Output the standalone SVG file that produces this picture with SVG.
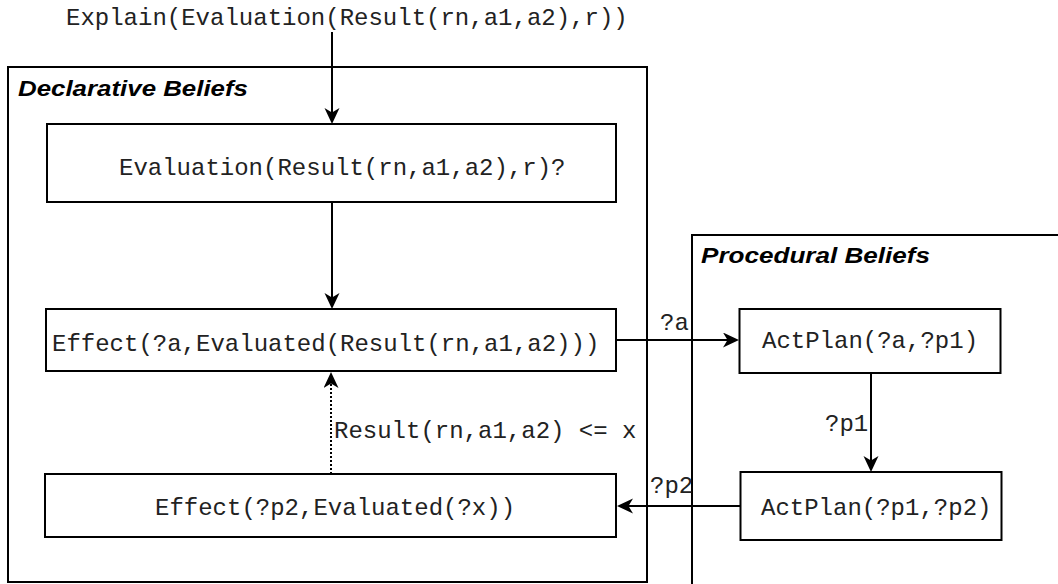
<svg xmlns="http://www.w3.org/2000/svg" width="1058" height="584" viewBox="0 0 1058 584">
  <style>
    .frame { fill: none; stroke: #000; stroke-width: 2; }
    .node { fill: #fff; stroke: #000; stroke-width: 2; }
    .mono { font-family: "Liberation Mono", "Courier New", monospace; font-size: 24px; fill: #222; }
    .title { font-family: "Liberation Sans", Arial, sans-serif; font-size: 22px; font-weight: bold; font-style: italic; fill: #000; }
    .edge { fill: none; stroke: #000; stroke-width: 2; }
    .dotted { stroke-dasharray: 2 2; }
  </style>
  <defs>
    <marker id="arrow" markerUnits="userSpaceOnUse" markerWidth="16" markerHeight="16" viewBox="0 0 16 16" refX="12" refY="7.5" orient="auto">
      <path d="M0,0 L16,7.5 L0,15 L4.5,7.5 Z" fill="#000"/>
    </marker>
  </defs>

  <rect width="1058" height="584" fill="#fff"/>

  <!-- query entering the belief base -->
  <text id="query" class="mono" x="66" y="25">Explain(Evaluation(Result(rn,a1,a2),r))</text>

  <!-- containers -->
  <g id="declarative-beliefs">
    <rect class="frame" x="8" y="67" width="639" height="515"/>
    <text class="title" x="18" y="96" textLength="230" lengthAdjust="spacingAndGlyphs">Declarative Beliefs</text>
  </g>
  <g id="procedural-beliefs">
    <rect class="frame" x="692" y="235" width="420" height="400"/>
    <text class="title" x="701" y="263" textLength="229" lengthAdjust="spacingAndGlyphs">Procedural Beliefs</text>
  </g>

  <!-- declarative nodes -->
  <g id="evaluation">
    <rect class="node" x="47" y="124" width="569" height="78"/>
    <text class="mono" x="119" y="175">Evaluation(Result(rn,a1,a2),r)?</text>
  </g>
  <g id="effect-a">
    <rect class="node" x="46" y="309" width="570" height="62"/>
    <text class="mono" x="52" y="351">Effect(?a,Evaluated(Result(rn,a1,a2)))</text>
  </g>
  <g id="effect-p2">
    <rect class="node" x="45" y="474" width="571" height="63"/>
    <text class="mono" x="155" y="515">Effect(?p2,Evaluated(?x))</text>
  </g>

  <!-- procedural nodes -->
  <g id="actplan-a-p1">
    <rect class="node" x="739.5" y="309" width="261" height="64"/>
    <text class="mono" x="762" y="348">ActPlan(?a,?p1)</text>
  </g>
  <g id="actplan-p1-p2">
    <rect class="node" x="740.5" y="472" width="261" height="68"/>
    <text class="mono" x="761" y="515">ActPlan(?p1,?p2)</text>
  </g>

  <!-- connectors -->
  <g id="connectors">
    <path class="edge" d="M332,32 V120" marker-end="url(#arrow)"/>
    <path class="edge" d="M332,202 V305" marker-end="url(#arrow)"/>
    <path class="edge dotted" d="M331,474 V376" marker-end="url(#arrow)"/>
    <path class="edge" d="M616,340 H735" marker-end="url(#arrow)"/>
    <path class="edge" d="M871,373 V468" marker-end="url(#arrow)"/>
    <path class="edge" d="M740.5,506 H621" marker-end="url(#arrow)"/>

    <text class="mono" x="660" y="330">?a</text>
    <text class="mono" x="825" y="431">?p1</text>
    <text class="mono" x="650" y="493">?p2</text>
    <text class="mono" x="334" y="438">Result(rn,a1,a2) &lt;= x</text>
  </g>
</svg>
